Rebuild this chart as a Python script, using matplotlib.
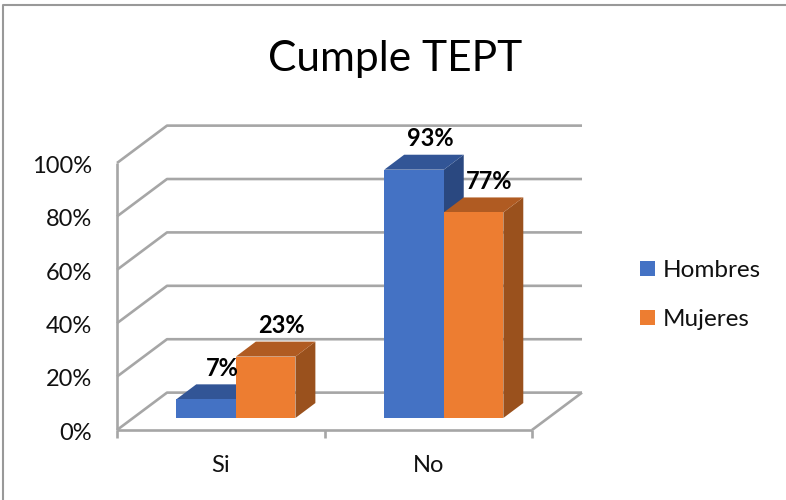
import matplotlib
matplotlib.use('Agg')
import matplotlib.pyplot as plt
from matplotlib.patches import Polygon, Patch

plt.rcParams['font.family'] = ['Lato', 'DejaVu Sans']

categories = ['Si', 'No']
hombres = [7, 93]
mujeres = [23, 77]
y_ticks = [0, 20, 40, 60, 80, 100]

BLUE = ['#4472C4', '#325596', '#2A4880']
ORANGE = ['#ED7D31', '#B05B22', '#9A511D']
GRID = '#A6A6A6'

# fake 3D: sizes in data units, x is categories, y is percent
WALL_DX, WALL_DY = 0.241, 14.0
BAR_W = 0.287
BAR_DX, BAR_DY = 0.096, 5.6
BASE_DX, BASE_DY = 0.075, 4.5

fig = plt.figure(figsize=(7.86, 5.0), dpi=100)
ax = fig.add_axes([117 / 786, 1 - 430 / 500, 415 / 786, 267 / 500])
ax.set_xlim(0, 2)
ax.set_ylim(0, 100)
ax.axis('off')


def bar3d(x, value, colors):
    left = x + BASE_DX
    right = left + BAR_W
    bottom = BASE_DY
    top = bottom + value
    faces = [
        (colors[2], [(right, bottom), (right + BAR_DX, bottom + BAR_DY),
                     (right + BAR_DX, top + BAR_DY), (right, top)]),
        (colors[1], [(left, top), (left + BAR_DX, top + BAR_DY),
                     (right + BAR_DX, top + BAR_DY), (right, top)]),
        (colors[0], [(left, bottom), (right, bottom), (right, top), (left, top)]),
    ]
    for color, pts in faces:
        ax.add_patch(Polygon(pts, closed=True, fc=color, ec='none', zorder=3, clip_on=False))
    ax.annotate(f'{value}%', (left + BAR_W / 2, top), xytext=(11.5, 22.5),
                textcoords='offset points', ha='center', va='center',
                fontsize=17, fontweight='bold', color='black', zorder=6,
                annotation_clip=False)


# walls and gridlines
line = dict(color=GRID, lw=1.9, clip_on=False, zorder=1, solid_capstyle='butt')
for t in y_ticks:
    ax.plot([0, WALL_DX, 2 + WALL_DX], [t, t + WALL_DY, t + WALL_DY], **line)
    ax.text(-0.12, t - 1.2, f'{t}%', ha='right', va='center', fontsize=17, color='#111111')
ax.plot([0, 0], [0, 100], **line)
ax.plot([0, 2], [0, 0], **line)
ax.plot([2, 2 + WALL_DX], [0, WALL_DY], **line)

# ticks under the front edge
for x in [0, 1, 2]:
    ax.plot([x, x], [0, -3], **line)

for i, name in enumerate(categories):
    ax.text(i + 0.5, -13.2, name, ha='center', va='center', fontsize=17, color='#111111')

group_start = [0.286, 1.288]
for i in range(len(categories)):
    bar3d(group_start[i] - BASE_DX, hombres[i], BLUE)
    bar3d(group_start[i] - BASE_DX + BAR_W, mujeres[i], ORANGE)

fig.text(395 / 786, 1 - 59 / 500, 'Cumple TEPT', ha='center', va='center',
         fontsize=30.6, color='black')

handles = [Patch(fc=BLUE[0], label='Hombres'), Patch(fc=ORANGE[0], label='Mujeres')]
fig.legend(handles=handles, loc='center left', bbox_to_anchor=(640 / 786, 1 - 295 / 500),
           frameon=False, fontsize=17.5, handlelength=0.62, handleheight=0.62,
           handletextpad=0.3, labelspacing=1.15, borderpad=0, borderaxespad=0,
           labelcolor='#111111')

# outer frame of the chart area, only top and left are visible
fig.add_artist(plt.Line2D([3 / 786, 3 / 786, 1], [0, 1 - 5 / 500, 1 - 5 / 500],
                          color='#999999', lw=1.5))

fig.savefig('out.png', dpi=100)
